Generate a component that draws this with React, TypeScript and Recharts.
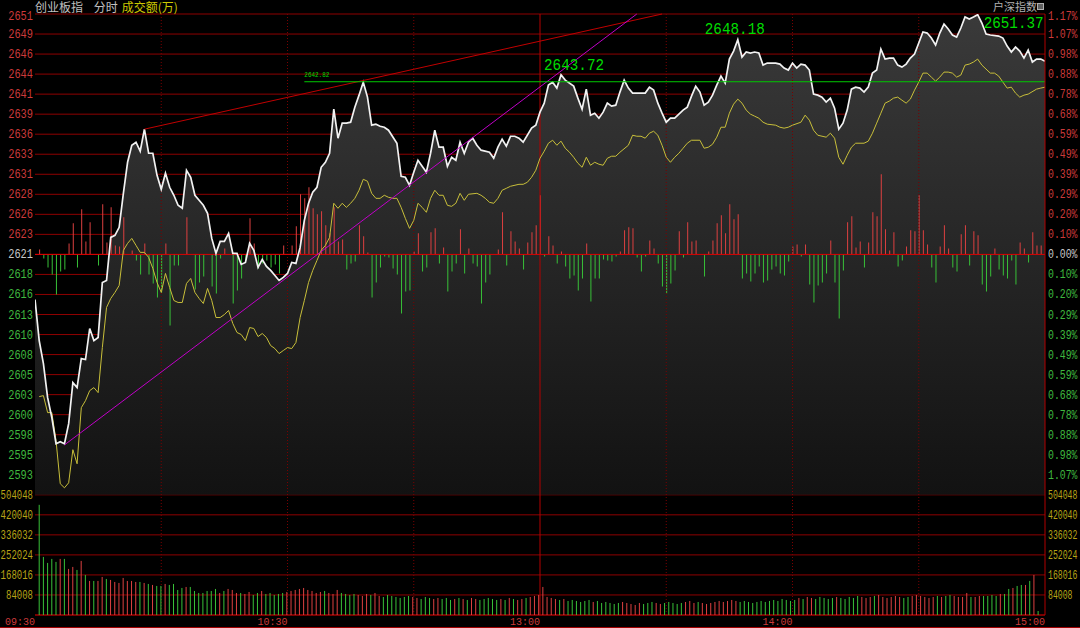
import React from "react";
import {
  ComposedChart,
  Area,
  Line,
  Bar,
  Cell,
  XAxis,
  YAxis,
  CartesianGrid,
  ReferenceLine,
  ReferenceDot,
} from "recharts";

// 昨收 and one grid row of the price panel
const PREV_CLOSE = 2620.8;
const STEP = 2.555;
const VOL_STEP = 84008; // 万 per grid row in the volume panel
const BR_STEP = 100; // breadth units per grid row

const priceTickLabels = [
  "2651", "2649", "2646", "2644", "2641", "2639", "2636", "2633", "2631", "2628", "2626", "2623",
  "2621",
  "2618", "2616", "2613", "2610", "2608", "2605", "2603", "2600", "2598", "2595", "2593",
];
const pctTickLabels = [
  "1.17%", "1.07%", "0.98%", "0.88%", "0.78%", "0.68%", "0.59%", "0.49%", "0.39%", "0.29%", "0.20%", "0.10%",
  "0.00%",
  "0.10%", "0.20%", "0.29%", "0.39%", "0.49%", "0.59%", "0.68%", "0.78%", "0.88%", "0.98%", "1.07%",
];
const volTickLabels = ["504048", "420040", "336032", "252024", "168016", "84008"];
const timeTicks = [0, 60, 120, 180, 240];
const timeLabels = ["09:30", "10:30", "13:00", "14:00", "15:00"];

// [minute, price]
const priceSeries: [number, number][] = [
  [0, 2615.05], [1, 2609.81], [2, 2606.88], [3, 2602.53], [4, 2599.98], [5, 2596.66], [6, 2596.91], [7, 2596.66],
  [8, 2599.21], [9, 2604.45], [10, 2603.81], [11, 2607.51], [12, 2607.39], [13, 2611.35], [14, 2609.81], [15, 2610.2],
  [16, 2617.22], [17, 2617.48], [18, 2622.97], [19, 2623.23], [20, 2624.25], [21, 2628.59], [22, 2632.55], [23, 2634.72],
  [24, 2635.11], [25, 2633.96], [26, 2636.77], [27, 2633.7], [28, 2633.7], [29, 2630.89], [30, 2629.1], [31, 2631.15],
  [32, 2629.36], [33, 2628.34], [34, 2627.06], [35, 2626.68], [36, 2631.53], [37, 2630.64], [38, 2628.34], [39, 2627.7],
  [40, 2627.06], [41, 2626.04], [42, 2622.84], [43, 2620.93], [44, 2622.46], [45, 2622.46], [46, 2623.48], [47, 2620.93],
  [48, 2620.93], [49, 2619.52], [50, 2619.78], [51, 2622.21], [52, 2621.31], [53, 2619.14], [54, 2620.16], [55, 2619.27],
  [56, 2618.76], [58, 2617.48], [59, 2617.86], [60, 2618.37], [61, 2619.78], [62, 2619.65], [63, 2621.69], [64, 2625.14],
  [65, 2627.32], [66, 2628.72], [67, 2629.36], [68, 2631.91], [69, 2632.55], [70, 2633.7], [71, 2639.32], [72, 2635.62],
  [73, 2637.54], [74, 2637.54], [75, 2637.66], [76, 2639.58], [77, 2641.11], [78, 2642.77], [79, 2640.86], [80, 2637.28],
  [81, 2637.41], [82, 2637.15], [83, 2637.02], [84, 2636.64], [86, 2634.98], [87, 2630.76], [88, 2630.64], [89, 2629.61],
  [90, 2631.28], [91, 2632.81], [92, 2632.04], [93, 2631.28], [94, 2633.7], [95, 2636.64], [96, 2634.47], [97, 2634.47],
  [98, 2632.04], [99, 2633.19], [100, 2632.81], [101, 2635.11], [102, 2633.7], [103, 2635.11], [104, 2635.62], [105, 2634.72],
  [106, 2634.09], [108, 2633.83], [109, 2633.06], [110, 2634.47], [111, 2635.49], [112, 2634.6], [113, 2635.87], [114, 2635.87],
  [115, 2635.62], [116, 2635.11], [118, 2636.9], [119, 2637.28], [120, 2638.94], [121, 2640.09], [122, 2642.39], [123, 2642.77],
  [124, 2642.01], [125, 2643.72], [126, 2643.03], [128, 2642.26], [129, 2640.73], [130, 2639.32], [131, 2641.88], [132, 2638.56],
  [133, 2638.81], [134, 2638.17], [135, 2638.94], [136, 2640.09], [137, 2639.71], [138, 2639.83], [139, 2641.5], [140, 2643.03],
  [141, 2642.01], [142, 2641.37], [144, 2641.37], [145, 2641.37], [146, 2642.13], [147, 2641.75], [148, 2640.09], [149, 2638.81],
  [150, 2637.66], [151, 2638.17], [152, 2638.17], [154, 2639.2], [155, 2639.58], [156, 2640.98], [157, 2642.26], [158, 2641.5],
  [159, 2639.83], [160, 2640.22], [161, 2641.11], [162, 2642.39], [163, 2643.54], [164, 2642.65], [165, 2645.71], [166, 2646.73],
  [167, 2648.18], [168, 2645.97], [169, 2646.61], [170, 2646.48], [171, 2646.61], [172, 2646.48], [173, 2644.94], [174, 2645.2],
  [176, 2645.2], [177, 2645.07], [178, 2644.56], [179, 2644.31], [180, 2645.2], [181, 2644.56], [182, 2645.07], [183, 2644.94],
  [184, 2644.31], [185, 2641.24], [186, 2641.11], [187, 2640.86], [188, 2640.22], [189, 2640.73], [190, 2639.45], [191, 2636.77],
  [192, 2637.54], [193, 2639.2], [194, 2641.88], [195, 2642.13], [196, 2642.01], [197, 2641.5], [198, 2642.13], [199, 2643.92],
  [200, 2644.31], [201, 2646.99], [202, 2645.71], [203, 2645.84], [204, 2645.84], [205, 2644.94], [206, 2644.69], [207, 2645.07],
  [208, 2645.84], [209, 2646.35], [210, 2647.76], [211, 2649.16], [212, 2649.03], [213, 2648.39], [214, 2647.5], [215, 2649.03],
  [216, 2650.18], [217, 2649.54], [218, 2648.78], [219, 2648.52], [220, 2649.67], [221, 2651.08], [222, 2650.82], [223, 2651.08],
  [224, 2651.37], [225, 2650.31], [226, 2648.91], [227, 2648.78], [229, 2648.65], [230, 2648.39], [231, 2647.37], [232, 2646.61],
  [233, 2647.24], [234, 2646.73], [235, 2645.84], [236, 2646.86], [237, 2645.33], [238, 2645.71], [239, 2645.71], [240, 2645.45],
];

// [minute, average price]
const avgSeries: [number, number][] = [
  [1, 2602.66], [2, 2602.79], [3, 2600.62], [4, 2600.62], [5, 2597.04], [6, 2591.55], [7, 2591.03], [8, 2591.67],
  [9, 2595.89], [10, 2594.1], [11, 2601.25], [12, 2602.15], [13, 2603.43], [14, 2603.81], [15, 2603.17], [16, 2608.92],
  [17, 2614.03], [18, 2615.18], [19, 2615.95], [20, 2616.84], [21, 2621.31], [22, 2622.21], [23, 2622.84], [24, 2621.95],
  [25, 2621.06], [26, 2621.06], [27, 2620.42], [28, 2619.01], [29, 2617.22], [30, 2615.95], [31, 2618.37], [32, 2616.58],
  [33, 2614.92], [34, 2614.67], [35, 2614.67], [36, 2617.1], [37, 2617.73], [38, 2615.95], [39, 2615.18], [40, 2614.54],
  [41, 2616.46], [42, 2614.92], [43, 2612.75], [44, 2612.75], [45, 2613.13], [46, 2613.65], [47, 2611.99], [48, 2610.84],
  [49, 2610.58], [50, 2609.81], [51, 2611.47], [52, 2611.35], [53, 2610.32], [54, 2610.71], [55, 2610.2], [56, 2609.17],
  [57, 2608.79], [58, 2608.15], [59, 2608.54], [60, 2608.92], [61, 2608.79], [62, 2609.56], [63, 2612.75], [64, 2614.92],
  [65, 2617.22], [66, 2618.76], [67, 2620.03], [68, 2621.31], [69, 2621.95], [70, 2622.97], [71, 2627.32], [72, 2626.68],
  [73, 2627.32], [74, 2626.8], [75, 2627.32], [76, 2627.95], [77, 2628.98], [78, 2630.38], [79, 2630.13], [80, 2628.59],
  [81, 2627.95], [82, 2627.95], [83, 2628.34], [84, 2628.08], [85, 2627.95], [86, 2627.95], [87, 2626.8], [88, 2625.4],
  [89, 2624.12], [90, 2625.14], [91, 2627.32], [92, 2626.8], [93, 2626.17], [94, 2627.95], [95, 2628.98], [96, 2628.34],
  [97, 2628.34], [98, 2627.06], [99, 2626.93], [100, 2627.32], [101, 2628.59], [102, 2627.7], [103, 2628.47], [105, 2628.59],
  [106, 2628.34], [107, 2627.95], [108, 2627.44], [109, 2627.32], [110, 2627.95], [111, 2628.98], [112, 2629.23], [113, 2629.49],
  [115, 2629.74], [116, 2629.74], [117, 2630.0], [118, 2630.64], [119, 2631.53], [120, 2633.06], [121, 2633.96], [122, 2634.98],
  [123, 2635.36], [124, 2634.72], [125, 2635.24], [126, 2634.34], [127, 2633.83], [128, 2633.19], [129, 2632.43], [130, 2631.91],
  [131, 2633.19], [132, 2632.17], [133, 2632.55], [134, 2632.3], [135, 2632.17], [136, 2633.06], [137, 2633.32], [138, 2633.32],
  [139, 2633.83], [141, 2634.72], [142, 2636.0], [143, 2635.87], [144, 2635.87], [145, 2635.62], [146, 2636.26], [147, 2636.51],
  [148, 2636.0], [149, 2634.72], [150, 2633.19], [151, 2632.55], [152, 2633.19], [153, 2633.7], [154, 2634.34], [155, 2634.98],
  [156, 2635.36], [158, 2635.36], [159, 2634.34], [160, 2634.47], [161, 2634.85], [162, 2635.75], [163, 2637.02], [164, 2637.02],
  [165, 2638.81], [166, 2639.96], [167, 2640.6], [168, 2640.09], [169, 2639.2], [170, 2638.69], [171, 2638.43], [172, 2638.17],
  [173, 2637.66], [174, 2637.41], [176, 2637.28], [177, 2637.02], [178, 2636.9], [179, 2637.02], [180, 2637.28], [182, 2637.66],
  [183, 2638.56], [184, 2637.92], [185, 2636.64], [186, 2636.0], [188, 2635.75], [189, 2636.26], [190, 2635.62], [191, 2633.19],
  [192, 2632.3], [193, 2633.45], [194, 2634.47], [195, 2634.98], [197, 2634.98], [198, 2635.24], [199, 2636.26], [200, 2637.54],
  [201, 2638.81], [202, 2640.09], [203, 2640.35], [204, 2640.73], [205, 2640.86], [206, 2640.47], [207, 2640.09], [208, 2640.6],
  [209, 2641.75], [210, 2642.77], [211, 2643.92], [212, 2643.92], [213, 2643.41], [214, 2642.9], [215, 2643.41], [216, 2644.05],
  [217, 2644.05], [218, 2643.92], [219, 2643.41], [220, 2643.67], [221, 2644.94], [222, 2645.07], [223, 2645.33], [224, 2645.71],
  [225, 2644.94], [227, 2643.92], [228, 2643.92], [229, 2643.54], [230, 2642.77], [231, 2642.01], [232, 2642.13], [233, 2641.37],
  [234, 2640.86], [235, 2641.11], [236, 2641.24], [238, 2641.88], [239, 2642.01], [240, 2642.13],
];

// [minute, up(+)/down(-) breadth]
const breadthSeries: [number, number][] = [
  [1, 25], [2, -20], [3, -65], [4, -100], [5, -200], [6, -85], [7, -75], [8, 55], [9, 155], [10, -65], [11, 225], [12, 65],
  [13, 160], [15, -55], [16, 250], [17, 60], [18, 235], [19, 45], [20, 40], [21, 185], [23, 20], [24, -30], [25, -100],
  [26, 55], [27, -100], [28, -145], [29, -215], [30, -190], [31, 55], [32, -355], [33, -55], [34, -55], [36, 185],
  [38, -175], [39, -140], [40, -110], [42, -160], [43, -195], [44, -20], [45, 30], [47, -245], [48, -180], [49, -120],
  [50, -30], [51, 180], [52, 55], [53, -70], [54, -45], [55, -30], [56, -65], [57, -50], [58, -95], [59, 45], [61, 45],
  [62, 140], [63, 300], [64, 280], [65, 335], [66, 230], [67, 200], [68, 215], [69, 145], [70, 105], [71, 235], [72, 65],
  [73, 75], [74, -75], [75, -45], [76, -35], [77, 145], [78, 90], [79, 10], [80, -215], [81, -140], [82, -65], [83, -10],
  [84, -15], [85, -70], [86, -100], [87, -295], [88, -185], [89, -180], [90, 15], [91, 105], [92, -85], [93, -65],
  [94, 110], [95, 130], [96, -45], [97, 35], [98, -185], [99, -85], [100, -45], [101, 125], [102, -95], [103, 30],
  [104, -45], [105, -60], [106, -245], [107, -140], [108, -100], [110, 25], [111, 210], [112, -55], [113, 115], [114, 65],
  [115, 30], [116, -75], [117, 60], [118, 110], [119, 145], [120, 295], [121, -10], [122, 90], [123, 45], [124, -45],
  [125, 15], [126, -60], [127, -120], [128, -105], [129, -180], [130, -120], [131, 55], [132, -235], [133, -120],
  [134, -120], [135, -25], [136, -30], [137, -35], [138, -10], [139, 15], [140, 120], [141, 135], [142, 130], [143, -15],
  [144, -85], [145, -10], [146, 70], [147, 30], [148, -45], [149, -160], [150, -195], [151, -145], [152, -80], [153, 115],
  [154, -15], [155, 160], [156, 65], [157, 70], [159, -110], [160, 15], [161, 70], [162, 155], [163, 195], [164, 105],
  [165, 250], [166, 175], [167, 200], [168, -120], [169, -95], [170, -135], [171, -95], [172, -60], [173, -140],
  [174, -130], [175, -75], [176, -60], [177, -95], [178, -105], [179, -35], [180, 40], [181, 50], [182, -10], [183, 50],
  [184, -150], [185, -240], [186, -155], [187, -140], [188, -95], [189, 70], [190, -140], [191, -320], [192, -80],
  [193, 160], [194, 190], [195, 35], [196, 65], [197, -65], [198, 60], [199, 210], [200, 190], [201, 400], [202, 125],
  [203, 20], [204, 110], [205, -60], [206, -30], [207, 40], [208, 120], [209, 115], [210, 295], [211, 120], [212, 50],
  [213, -65], [214, -140], [215, 40], [216, 145], [217, 30], [218, -65], [219, -85], [220, 100], [221, 145], [222, -55],
  [223, 115], [224, 95], [225, -150], [226, -185], [227, -110], [228, 30], [229, -75], [230, -105], [231, -120],
  [232, -30], [233, -150], [234, 60], [235, 30], [236, -40], [237, 110], [238, 45], [239, 45],
];

// 成交额(万), one bar per minute 09:30-09:31 ... 14:59-15:00
const volumes = [
  462000, 243600, 218400, 235200, 222600, 235200, 235200, 193200, 201600, 189000, 226800, 168000,
  142800, 142800, 142800, 159600, 151200, 147000, 138600, 134400, 155400, 142800, 142800, 138600,
  138600, 134400, 130200, 126000, 121800, 121800, 130200, 126000, 130200, 105000, 113400, 117600,
  117600, 100800, 92400, 92400, 100800, 100800, 109200, 92400, 100800, 109200, 105000, 92400,
  92400, 88200, 96600, 84000, 92400, 100800, 88200, 92400, 84000, 88200, 92400, 96600,
  100800, 105000, 109200, 113400, 105000, 100800, 92400, 96600, 100800, 92400, 88200, 105000,
  92400, 88200, 84000, 88200,
  84000, 79800, 88200, 84000, 92400, 79800, 75600, 84000, 79800, 75600, 71400, 75600,
  79800, 75600, 71400, 67200, 75600, 71400, 67200, 71400,
  67200, 71400, 63000, 67200, 71400, 67200, 63000, 71400, 67200, 63000, 67200, 71400,
  67200, 63000, 67200, 63000, 71400, 67200, 63000, 67200, 71400, 75600, 79800, 84000,
  117600, 75600, 71400, 67200, 63000, 67200, 58800, 63000, 58800, 54600, 58800, 63000,
  54600, 58800, 50400, 54600,
  50400, 46200, 50400, 54600, 50400, 46200, 42000, 50400, 46200, 50400, 54600, 50400,
  46200, 50400, 54600, 50400, 46200, 50400, 54600, 58800, 50400, 54600, 50400, 46200,
  50400, 54600, 58800, 54600, 58800, 63000, 58800, 54600, 58800, 54600, 50400,
  54600, 58800, 54600, 58800, 63000, 58800, 67200, 63000, 58800, 63000, 71400, 67200,
  75600, 71400, 67200, 75600, 71400, 67200, 71400, 75600, 71400, 67200, 75600, 71400,
  79800, 75600, 71400, 75600, 79800, 84000, 75600, 71400, 75600, 79800, 75600, 71400,
  75600, 79800, 84000, 79800, 75600, 71400, 75600, 79800, 75600, 79800, 84000, 79800,
  75600,
  75600, 92400, 75600, 75600, 79800, 79800, 79800, 84000, 79800, 88200, 88200, 109200,
  113400, 121800, 126000, 126000, 142800, 168000, 16800, 0,
];
// r = up minute, g = down minute
const volumeDirs = [
  "gggggrgr", "rgrgrgrr", "grrrrrrr", "grgrggrg", "gggrgggg", "gggrgrrr",
  "grrggrgggggr",
  "rrrrrrrrgrrrgggg",
  "rrrgrrgggggggrrgggrr",
  "gggrgrgrrgggggrgrgrrgrrr",
  "rrrrgrggggggrggg",
  "gggrrrrrgggrrgggggrrrgrrrrrrrrrgggg",
  "ggggggggggrgrrgggggrgggggrrrgrrrrrrggrrrrrrgrggrr",
  "rrgrrggggrggrggrgrgg",
].join("");

// hand-drawn trend lines, [minute, price] end points
const redTrend: [number, number][] = [[26, 2636.77], [149, 2651.46]];
const purpleTrend: [number, number][] = [[7, 2596.5], [143, 2651.46]];
const flatLine: [number, number][] = [[64, 2642.82], [240, 2642.82]];
// marked highs [minute, price]
const highs: [number, number][] = [[125, 2643.72], [167, 2648.18], [224, 2651.37]];

const RED_GRID = "#8e0000";
const RED_TXT = "#cc3a3a";
const GREEN_TXT = "#3fb83f";
const GRAY_TXT = "#c8c8c8";
const VOL_TXT = "#b8a416";
const UP = "#dc4040";
const DOWN = "#38c038";
const MONO = "'Liberation Mono', 'DejaVu Sans Mono', monospace";

type Row = { t: number; price?: number; avg?: number; br?: number };

const rowMap = new Map<number, Row>();
const rowAt = (t: number) => {
  let r = rowMap.get(t);
  if (!r) {
    r = { t };
    rowMap.set(t, r);
  }
  return r;
};
priceSeries.forEach(([m, v]) => (rowAt(m).price = v));
avgSeries.forEach(([m, v]) => (rowAt(m).avg = v));
breadthSeries.forEach(([m, v]) => (rowAt(m).br = v));
const chartData = [...rowMap.values()].sort((a, b) => a.t - b.t);

// volume panel rows: an empty pre-open slot, then one bar per minute
const volData: { k: string; vol?: number; up: boolean }[] = [
  { k: "0", up: false },
  ...volumes.map((v, k) => ({ k: String(k + 1), vol: v, up: volumeDirs[k] === "r" })),
];

const PRICE_LO = PREV_CLOSE - 18 * STEP;
const PRICE_HI = PREV_CLOSE + 12 * STEP;
const PANEL_BOTTOM = PREV_CLOSE - 12 * STEP;
const gridTicks = Array.from({ length: 31 }, (_, i) => PREV_CLOSE + (i - 18) * STEP);
const rowOf = (v: number) => Math.round((v - PREV_CLOSE) / STEP);

function LeftTick(props: any) {
  const { y, payload } = props;
  const k = rowOf(payload.value);
  let label = "";
  let fill = VOL_TXT;
  let w = 6.2;
  if (k >= -11) {
    label = priceTickLabels[12 - k];
    fill = k > 0 ? RED_TXT : k === 0 ? GRAY_TXT : GREEN_TXT;
  } else if (k >= -17) {
    label = volTickLabels[-12 - k];
    w = 5.4;
  }
  if (!label) return <g />;
  return (
    <text
      x={33}
      y={y + (k === 12 ? 5.5 : 4)}
      textAnchor="end"
      fontFamily={MONO}
      fontSize={12}
      fill={fill}
      textLength={label.length * w}
      lengthAdjust="spacingAndGlyphs"
    >
      {label}
    </text>
  );
}

function RightTick(props: any) {
  const { y, payload } = props;
  const k = rowOf(payload.value);
  let label = "";
  let fill = VOL_TXT;
  let w = 5.9;
  if (k >= -11) {
    label = pctTickLabels[12 - k];
    fill = k > 0 ? RED_TXT : k === 0 ? GRAY_TXT : GREEN_TXT;
  } else if (k >= -17) {
    label = volTickLabels[-12 - k];
    w = 4.9;
  }
  if (!label) return <g />;
  return (
    <text
      x={1048}
      y={y + (k === 12 ? 5.5 : 4)}
      textAnchor="start"
      fontFamily={MONO}
      fontSize={12}
      fill={fill}
      textLength={label.length * w}
      lengthAdjust="spacingAndGlyphs"
    >
      {label}
    </text>
  );
}

function TimeTick(props: any) {
  const { x, payload } = props;
  const label = timeLabels[timeTicks.indexOf(payload.value)] ?? "";
  return (
    <text
      x={x}
      y={625}
      textAnchor="end"
      fontFamily={MONO}
      fontSize={11}
      fill={RED_TXT}
      textLength={30}
      lengthAdjust="spacingAndGlyphs"
    >
      {label}
    </text>
  );
}

const highLabel = (text: string, dx: number, dy: number, width: number, size: number) => (props: any) => {
  const vb = props.viewBox || {};
  return (
    <text
      x={(vb.x ?? 0) + dx}
      y={(vb.y ?? 0) + dy}
      fill="#00dc00"
      fontFamily={MONO}
      fontSize={size}
      textLength={width}
      lengthAdjust="spacingAndGlyphs"
    >
      {text}
    </text>
  );
};
const highOffsets = [
  [-17, -5],
  [-33, -6],
  [6, 13.5],
];

// plain 1px column for each minute's 成交额
const VolumeStick = (p: any) => {
  if (!p || !Number.isFinite(p.y) || !Number.isFinite(p.height) || p.height <= 0) return <g />;
  return <rect x={p.x} y={p.y} width={1} height={p.height} fill={p.fill} />;
};

// volume bars sit on their own category axis laid over the main chart
function VolumePanel() {
  return (
    <ComposedChart
      width={1080}
      height={628}
      data={volData}
      margin={{ top: 14, right: 1, bottom: 0, left: 0 }}
      barCategoryGap={0}
    >
      <XAxis dataKey="k" type="category" height={13} tick={false} tickLine={false} axisLine={false} />
      <YAxis yAxisId="vol" orientation="left" width={32.5} tick={false} tickLine={false} axisLine={false}
        type="number" domain={[0, 30 * VOL_STEP]} allowDataOverflow />
      <YAxis yAxisId="r" orientation="right" width={35} tick={false} tickLine={false} axisLine={false} />
      <Bar yAxisId="vol" dataKey="vol" barSize={1} shape={VolumeStick} isAnimationActive={false}>
        {volData.map((r) => (
          <Cell key={r.k} fill={r.up ? UP : DOWN} />
        ))}
      </Bar>
    </ComposedChart>
  );
}

export default function App() {
  return (
    <div
      style={{
        position: "fixed",
        left: 0,
        top: 0,
        width: 1080,
        height: 628,
        background: "#000",
        overflow: "hidden",
      }}
    >
      <ComposedChart
        width={1080}
        height={628}
        data={chartData}
        margin={{ top: 14, right: 0, bottom: 0, left: 0 }}
      >
        <defs>
          <linearGradient id="priceFill" x1="0" y1="0" x2="0" y2="1">
            <stop offset="0%" stopColor="#3a3a3a" />
            <stop offset="100%" stopColor="#121212" />
          </linearGradient>
        </defs>
        <CartesianGrid xAxisId="t" yAxisId="price" vertical={false} stroke={RED_GRID} />
        <XAxis
          xAxisId="t"
          dataKey="t"
          type="number"
          domain={[0, 240]}
          ticks={timeTicks}
          interval={0}
          height={13}
          tickLine={false}
          axisLine={{ stroke: "#b00000" }}
          tick={TimeTick}
          allowDataOverflow
        />
        <YAxis
          yAxisId="price"
          orientation="left"
          width={35}
          type="number"
          domain={[PRICE_LO, PRICE_HI]}
          ticks={gridTicks}
          interval={0}
          tickLine={false}
          axisLine={{ stroke: "#b00000" }}
          tick={LeftTick}
          allowDataOverflow
        />
        <YAxis
          yAxisId="pct"
          orientation="right"
          width={35}
          type="number"
          domain={[PRICE_LO, PRICE_HI]}
          ticks={gridTicks}
          interval={0}
          tickLine={false}
          axisLine={{ stroke: "#b00000" }}
          tick={RightTick}
          allowDataOverflow
        />
        <YAxis yAxisId="br" hide type="number" domain={[-18 * BR_STEP, 12 * BR_STEP]} allowDataOverflow />

        {[30, 60, 90, 150, 180, 210].map((m) => (
          <ReferenceLine
            key={m}
            xAxisId="t"
            yAxisId="price"
            x={m}
            stroke="#7a0000"
            strokeDasharray="1 2"
          />
        ))}
        <ReferenceLine xAxisId="t" yAxisId="price" x={120} stroke="#b40000" />

        <Area
          xAxisId="t"
          yAxisId="price"
          type="linear"
          dataKey="price"
          baseValue={PANEL_BOTTOM}
          connectNulls
          stroke="none"
          fill="url(#priceFill)"
          fillOpacity={1}
          dot={false}
          activeDot={false}
          isAnimationActive={false}
        />
        <ReferenceLine xAxisId="t" yAxisId="price" y={PREV_CLOSE} stroke="#e00000" />

        <Bar xAxisId="t" yAxisId="br" dataKey="br" barSize={1} isAnimationActive={false}>
          {chartData.map((r) => (
            <Cell key={r.t} fill={(r.br ?? 0) >= 0 ? UP : DOWN} />
          ))}
        </Bar>

        <Line
          xAxisId="t"
          yAxisId="price"
          type="linear"
          dataKey="avg"
          connectNulls
          stroke="#c8bf3a"
          strokeWidth={1}
          dot={false}
          activeDot={false}
          isAnimationActive={false}
        />
        <Line
          xAxisId="t"
          yAxisId="price"
          type="linear"
          dataKey="price"
          connectNulls
          stroke="#f2f2f2"
          strokeWidth={1.7}
          dot={false}
          activeDot={false}
          isAnimationActive={false}
        />

        <ReferenceLine
          xAxisId="t"
          yAxisId="price"
          segment={redTrend.map(([x, y]) => ({ x, y }))}
          stroke="#c00000"
          ifOverflow="visible"
        />
        <ReferenceLine
          xAxisId="t"
          yAxisId="price"
          segment={purpleTrend.map(([x, y]) => ({ x, y }))}
          stroke="#c000c8"
          ifOverflow="visible"
        />
        <ReferenceLine
          xAxisId="t"
          yAxisId="price"
          segment={flatLine.map(([x, y]) => ({ x, y }))}
          stroke="#00c800"
          ifOverflow="visible"
        />
        <ReferenceDot
          xAxisId="t"
          yAxisId="price"
          x={flatLine[0][0]}
          y={flatLine[0][1]}
          r={0}
          stroke="none"
          fill="none"
          label={highLabel(flatLine[0][1].toFixed(2), 0, -4.5, 25, 8)}
        />
        {highs.map(([m, v], i) => (
          <ReferenceDot
            key={m}
            xAxisId="t"
            yAxisId="price"
            x={m}
            y={v}
            r={0}
            stroke="none"
            fill="none"
            label={highLabel(v.toFixed(2), highOffsets[i][0], highOffsets[i][1], 60, 17)}
          />
        ))}
      </ComposedChart>

      <div style={{ position: "absolute", left: 0, top: 0, width: 1080, height: 628, zIndex: 2 }}>
        <VolumePanel />
      </div>

      <div
        style={{
          position: "absolute",
          left: 35,
          top: 0,
          zIndex: 3,
          fontFamily: "'Noto Sans CJK SC', sans-serif",
          fontSize: 12,
          lineHeight: "13px",
          color: "#c0c0c0",
          whiteSpace: "pre",
        }}
      >
        创业板指 <span style={{ marginLeft: 8 }}>分时</span>
        <span style={{ marginLeft: 4, color: "#cdc800" }}>成交额(万)</span>
      </div>
      <div
        style={{
          position: "absolute",
          left: 993,
          top: 0,
          zIndex: 3,
          fontFamily: "'Noto Sans CJK SC', sans-serif",
          fontSize: 11,
          lineHeight: "12px",
          color: "#b0b0b0",
          whiteSpace: "pre",
        }}
      >
        户深指数
      </div>
      <div
        style={{
          position: "absolute",
          left: 1037,
          top: 3,
          zIndex: 3,
          width: 5,
          height: 5,
          border: "1px solid #b0b0b0",
          background: "#606060",
        }}
      />
      <div style={{ position: "absolute", left: 0, top: 627, width: 1080, height: 1, background: "#a00000", zIndex: 3 }} />
    </div>
  );
}
